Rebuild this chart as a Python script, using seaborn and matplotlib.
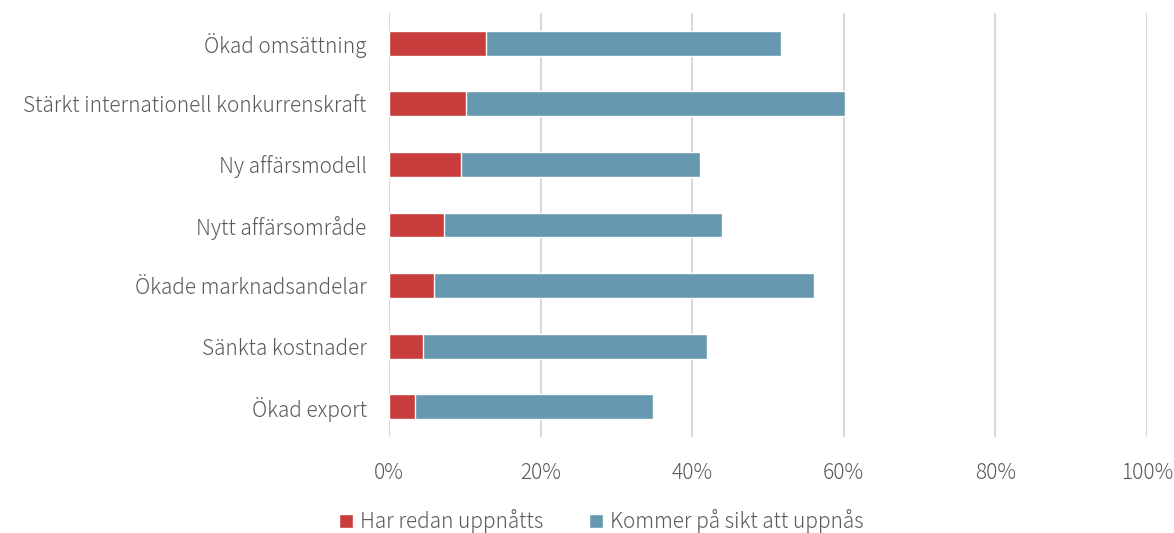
import pandas as pd
import seaborn as sns
import matplotlib.pyplot as plt
from matplotlib.patches import Patch
from matplotlib.ticker import PercentFormatter

categories = ["Ökad omsättning", "Stärkt internationell konkurrenskraft", "Ny affärsmodell",
              "Nytt affärsområde", "Ökade marknadsandelar", "Sänkta kostnader", "Ökad export"]
redan = [12.8, 10.2, 9.5, 7.3, 5.9, 4.5, 3.4]
pa_sikt = [39.0, 50.0, 31.5, 36.6, 50.2, 37.5, 31.5]
series_names = ["Har redan uppnåtts", "Kommer på sikt att uppnås"]
colors = ["#C83C3C", "#6698B0"]

df = pd.DataFrame({"kategori": categories, "redan": redan, "sikt": pa_sikt})
df["total"] = df["redan"] + df["sikt"]

sns.set_style("white")
plt.rcParams["font.family"] = ["Noto Sans CJK JP", "DejaVu Sans"]
plt.rcParams["font.weight"] = "light"
text_color = "#595959"

fig = plt.figure(figsize=(11.74, 5.33), dpi=100)
ax = fig.add_axes([0.3313, 0.18, 0.6455, 0.7956])

sns.barplot(data=df, y="kategori", x="total", color=colors[1], width=0.41,
            saturation=1, ax=ax, zorder=3)
sns.barplot(data=df, y="kategori", x="redan", color=colors[0], width=0.41,
            saturation=1, ax=ax, zorder=4)

ax.set_xlim(0, 100)
ax.set_xticks(range(0, 101, 20))
ax.xaxis.set_major_formatter(PercentFormatter(decimals=0))
ax.grid(axis="x", color="#D9D9D9", linewidth=1.5, zorder=0)
ax.grid(axis="y", visible=False)
for s in ax.spines.values():
    s.set_visible(False)
ax.set_xlabel("")
ax.set_ylabel("")
ax.tick_params(axis="both", length=0, labelsize=15, colors=text_color)
ax.tick_params(axis="x", pad=18)
ax.tick_params(axis="y", pad=16)

handles = [Patch(facecolor=c) for c in colors]
fig.legend(handles, series_names, loc="center", bbox_to_anchor=(0.512, 0.022), ncol=2,
           frameon=False, fontsize=15, labelcolor=text_color, handlelength=0.7,
           handleheight=0.7, handletextpad=0.3, columnspacing=2.2)

fig.savefig("out.png", dpi=100)
